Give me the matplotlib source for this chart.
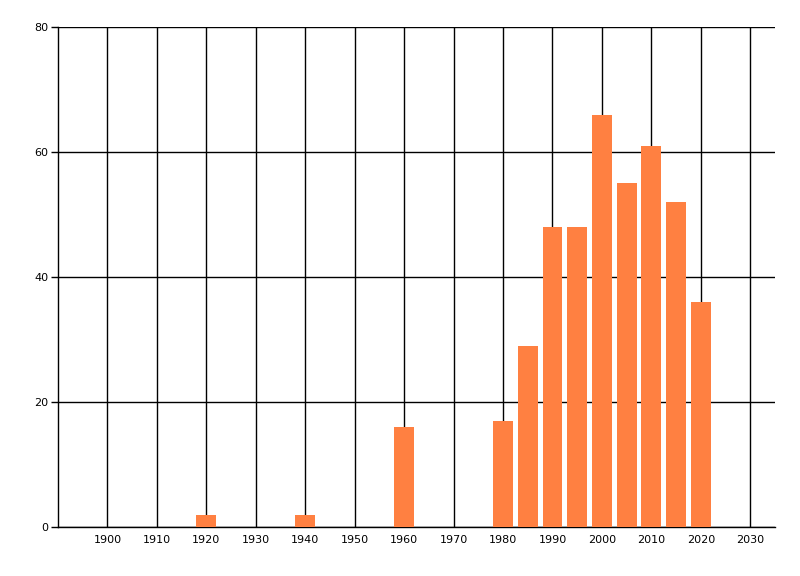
import matplotlib
matplotlib.use('Agg')
import matplotlib.pyplot as plt

# decade/half-decade counts
years = [1920, 1940, 1960, 1980, 1985, 1990, 1995, 2000, 2005, 2010, 2015, 2020]
counts = [2, 2, 16, 17, 29, 48, 48, 66, 55, 61, 52, 36]
xticks = list(range(1900, 2031, 10))
yticks = [0, 20, 40, 60, 80]

fig = plt.figure(figsize=(8, 5.76), dpi=100)
ax = fig.add_axes([58/800, 1 - 527/576, (775 - 58)/800, (527 - 27)/576])

ax.bar(years, counts, width=4, color='#ff8041', zorder=3)

ax.set_xlim(1890, 2035)
ax.set_ylim(0, 80)
ax.set_xticks(xticks)
ax.set_yticks(yticks)
ax.tick_params(axis='x', length=0, pad=6, labelsize=8)
ax.tick_params(axis='y', length=5, width=1, pad=2, labelsize=8)
ax.grid(True, color='black', linewidth=1, zorder=1)

for s in ['top', 'right']:
    ax.spines[s].set_visible(False)
for s in ['left', 'bottom']:
    ax.spines[s].set_color('black')
    ax.spines[s].set_linewidth(1)

fig.savefig('out.png', dpi=100)
